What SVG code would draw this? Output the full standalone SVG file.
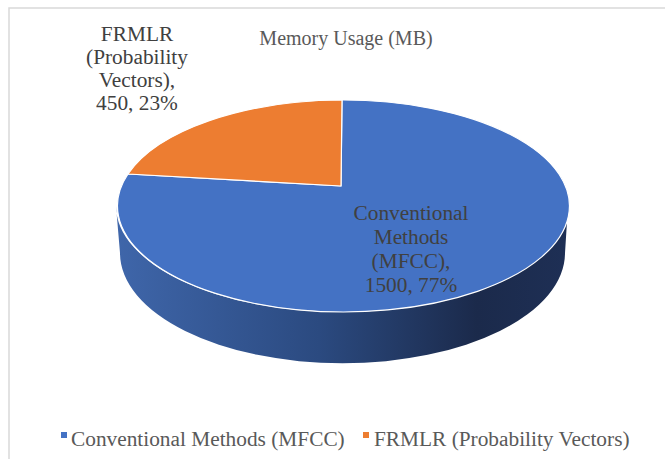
<svg xmlns="http://www.w3.org/2000/svg" width="665" height="459" viewBox="0 0 665 459">
<defs>
<linearGradient id="side" x1="116" y1="0" x2="567" y2="0" gradientUnits="userSpaceOnUse">
<stop offset="0" stop-color="#3f66aa"/>
<stop offset="0.45" stop-color="#2b4a80"/>
<stop offset="0.8" stop-color="#1b2a4b"/>
<stop offset="1" stop-color="#1e2f55"/>
</linearGradient>
<style>
.t{fill:#404040;text-anchor:middle}
.lg{fill:#595959;font-size:21.33px}
</style>
</defs>
<rect x="0" y="0" width="665" height="459" fill="#ffffff"/>
<rect x="9" y="8" width="700" height="500" fill="none" stroke="#d9d9d9" stroke-width="1.5"/>
<g font-family="'Liberation Serif', 'DejaVu Serif', serif">
<text class="t" x="346" y="45" font-size="20" style="fill:#595959">Memory Usage (MB)</text>
<g id="pie">
<path id="side-face" d="M116,206 A226,106 0 0,0 568,206 L565,253 A222,110 0 0,1 120,253 Z" fill="url(#side)"/>
<g id="slice-mfcc">
<path d="M341,186 L128,174 A226,106 0 1,0 342,100 Z" fill="#4472c4" stroke="#ffffff" stroke-width="1.2" stroke-linejoin="round"/>
</g>
<g id="slice-frmlr">
<path d="M341,186 L342,100 A226,106 0 0,0 128,174 Z" fill="#ed7d31" stroke="#ffffff" stroke-width="1.2" stroke-linejoin="round"/>
</g>
</g>
<g id="connectors"></g>
<g id="label-frmlr">
<text class="t" font-size="21.33"><tspan x="137" y="41">FRMLR</tspan><tspan x="137" y="64">(Probability</tspan><tspan x="137" y="87">Vectors),</tspan><tspan x="137" y="110">450, 23%</tspan></text>
</g>
<g id="label-mfcc">
<text class="t" font-size="21.33"><tspan x="411" y="220">Conventional</tspan><tspan x="411" y="244">Methods</tspan><tspan x="411" y="268">(MFCC),</tspan><tspan x="411" y="292">1500, 77%</tspan></text>
</g>
<g id="legend">
<rect x="61" y="432" width="6" height="6" fill="#4472c4"/>
<text class="lg" x="71" y="446">Conventional Methods (MFCC)</text>
<rect x="363" y="432" width="6" height="6" fill="#ed7d31"/>
<text class="lg" x="374" y="446">FRMLR (Probability Vectors)</text>
</g>
</g>
</svg>
